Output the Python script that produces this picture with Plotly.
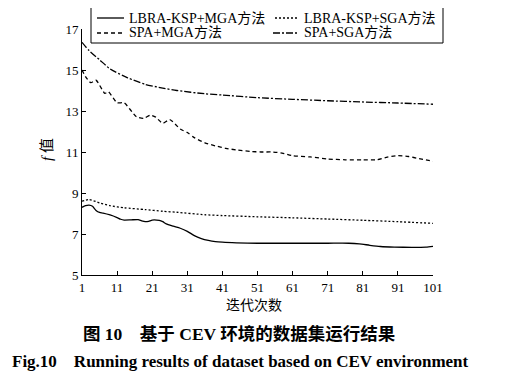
import plotly.graph_objects as go

# ---- data ----
names = ["LBRA-KSP+MGA方法", "LBRA-KSP+SGA方法", "SPA+MGA方法", "SPA+SGA方法"]

x_lk_mga = [1, 2, 3, 4, 5, 6, 7, 9, 11, 12, 13, 15, 17, 18, 19, 20, 21, 23, 24,
            25, 27, 29, 31, 33, 35, 37, 39, 41, 45, 51, 61, 71, 77, 80, 83, 86,
            90, 95, 99, 101]
y_lk_mga = [8.3, 8.38, 8.41, 8.35, 8.15, 8.05, 8.02, 7.93, 7.8, 7.72, 7.68, 7.69,
            7.7, 7.64, 7.6, 7.62, 7.68, 7.66, 7.6, 7.49, 7.38, 7.28, 7.13, 6.92,
            6.78, 6.69, 6.63, 6.6, 6.57, 6.55, 6.55, 6.55, 6.55, 6.52, 6.45, 6.39,
            6.36, 6.35, 6.36, 6.4]

x_lk_sga = [1, 3, 6, 9, 13, 19, 24, 28, 36, 41, 51, 61, 71, 81, 91, 101]
y_lk_sga = [8.6, 8.68, 8.52, 8.38, 8.28, 8.19, 8.11, 8.06, 7.94, 7.9, 7.84, 7.79,
            7.73, 7.67, 7.6, 7.52]

x_spa_mga = [1, 2, 3.5, 5, 7.5, 8.5, 11, 13, 16.5, 18.5, 20.5, 22, 24, 26, 29, 31,
             33, 36, 39, 42, 45, 49, 52, 55, 58, 61, 66, 71, 76, 81, 85, 88, 91,
             94, 97, 101]
y_spa_mga = [15.0, 14.68, 14.38, 14.5, 13.86, 13.94, 13.4, 13.4, 12.72, 12.64, 12.8,
             12.7, 12.4, 12.58, 12.12, 11.95, 11.7, 11.45, 11.3, 11.18, 11.1, 11.03,
             11.0, 11.0, 10.95, 10.82, 10.76, 10.66, 10.62, 10.62, 10.62, 10.75,
             10.82, 10.78, 10.68, 10.55]

x_spa_sga = [1, 3, 6, 9, 14, 19, 24, 28, 36, 41, 51, 61, 71, 81, 91, 101]
y_spa_sga = [16.35, 15.95, 15.5, 15.05, 14.62, 14.3, 14.12, 14.0, 13.84, 13.78,
             13.65, 13.57, 13.5, 13.44, 13.39, 13.33]

x_ticks = [1, 11, 21, 31, 41, 51, 61, 71, 81, 91, 101]
y_ticks = [5, 7, 9, 11, 13, 15, 17]

FONT = "Liberation Serif, Noto Sans CJK SC, serif"

# page body has an 8px margin, so the figure is drawn 8px in from the window edge
OFF = 8
W, H = 510 - OFF, 386 - OFF
X0, X1, Y0, Y1 = 82, 433, 29, 275          # plot area in window pixels
ML, MT = X0 - OFF, Y0 - OFF
MR, MB = W - (X1 - OFF), H - (Y1 - OFF)
PW, PH = X1 - X0, Y1 - Y0


def px(xw):
    return (xw - X0) / PW


def py(yw):
    return (Y1 - yw) / PH


fig = go.Figure()
dashes = ["solid", "2px,2px", "4px,3px", "7px,2px,2px,2px"]
series = [(x_lk_mga, y_lk_mga), (x_lk_sga, y_lk_sga),
          (x_spa_mga, y_spa_mga), (x_spa_sga, y_spa_sga)]
for name, (xs, ys), dash in zip(names, series, dashes):
    fig.add_trace(go.Scatter(
        x=xs, y=ys, mode="lines", name=name, showlegend=False,
        line=dict(color="black", width=1.3, dash=dash, shape="spline", smoothing=0.6),
    ))

fig.update_layout(
    width=W, height=H,
    margin=dict(l=ML, r=MR, t=MT, b=MB, autoexpand=False),
    paper_bgcolor="white", plot_bgcolor="white",
    font=dict(family=FONT, size=13, color="black"),
    showlegend=False,
    xaxis=dict(
        range=[1, 101], tickvals=x_ticks, ticktext=[str(v) for v in x_ticks],
        showline=True, linecolor="black", linewidth=1, mirror=False,
        ticks="inside", ticklen=4, tickcolor="black", showgrid=False, zeroline=False,
        tickfont=dict(family=FONT, size=13),
    ),
    yaxis=dict(
        range=[5, 17], tickvals=y_ticks, ticktext=[str(v) for v in y_ticks],
        showline=True, linecolor="black", linewidth=1, mirror=False,
        ticks="inside", ticklen=4, tickcolor="black", showgrid=False, zeroline=False,
        tickfont=dict(family=FONT, size=13),
    ),
)

# ---- legend box (drawn as decoration) ----
fig.add_shape(type="rect", xref="paper", yref="paper",
              x0=px(91), x1=px(443), y0=py(43), y1=py(7),
              line=dict(color="black", width=1), fillcolor="white", layer="above")
legend_slots = [  # (sample x0, sample x1, text x, row y) in window pixels
    (97, 124, 127, 18),
    (275, 298, 302, 18),
    (97, 124, 127, 33),
    (273, 298, 302, 33),
]
for name, dash, (sx0, sx1, tx, ry) in zip(names, dashes, legend_slots):
    fig.add_shape(type="line", xref="paper", yref="paper",
                  x0=px(sx0), x1=px(sx1), y0=py(ry), y1=py(ry),
                  line=dict(color="black", width=1.3, dash=dash), layer="above")
    fig.add_annotation(text=name, xref="paper", yref="paper", x=px(tx), y=py(ry),
                       showarrow=False, xanchor="left", yanchor="middle",
                       font=dict(family=FONT, size=14))

fig.add_annotation(text="迭代次数", xref="paper", yref="paper", x=px(254), y=py(305),
                   showarrow=False, font=dict(family=FONT, size=14),
                   xanchor="center", yanchor="middle")
fig.add_annotation(text="<i>f</i> 值", xref="paper", yref="paper", x=px(47), y=py(150),
                   showarrow=False, textangle=-90, font=dict(family=FONT, size=15),
                   xanchor="center", yanchor="middle")
fig.add_annotation(text="<b>图 10　基于 CEV 环境的数据集运行结果</b>", xref="paper", yref="paper",
                   x=px(239), y=py(334), showarrow=False, font=dict(family=FONT, size=17.5),
                   xanchor="center", yanchor="middle")
fig.add_annotation(text="<b>Fig.10　Running results of dataset based on CEV environment</b>",
                   xref="paper", yref="paper", x=px(240), y=py(362), showarrow=False,
                   font=dict(family=FONT, size=17), xanchor="center", yanchor="middle")

fig.write_html("out.html")
